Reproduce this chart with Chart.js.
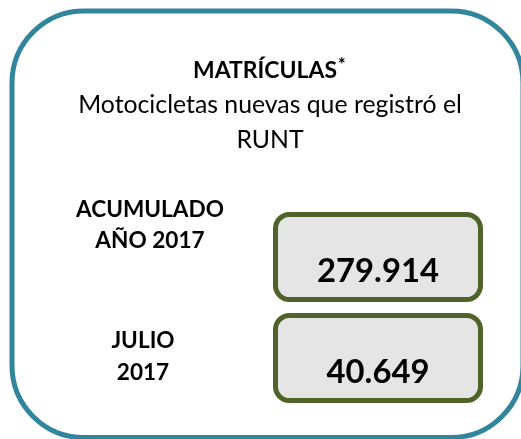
<!DOCTYPE html>
<html>
<head>
<meta charset="utf-8">
<script src="https://cdn.jsdelivr.net/npm/chart.js@4"></script>
<style>
html,body{margin:0;padding:0;background:#fff;overflow:hidden;}
canvas{display:block;}
</style>
</head>
<body>
<canvas id="c" width="521" height="439"></canvas>
<script>
// ---- data ----
const titleText = "MATRÍCULAS";
const subtitleLines = ["Motocicletas nuevas que registró el", "RUNT"];
const categories = ["ACUMULADO AÑO 2017", "JULIO 2017"];
const categoryLines = [["ACUMULADO", "AÑO 2017"], ["JULIO", "2017"]];
const values = [279914, 40649];

function fmt(v){ return String(v).replace(/\B(?=(\d{3})+(?!\d))/g, "."); }

const FONT = "Lato, 'Open Sans', sans-serif";

// font size that makes `text` as wide as `w`
function fitSize(ctx, text, weight, w){
  ctx.font = weight + " 20px " + FONT;
  return 20 * w / ctx.measureText(text).width;
}

const infoPlugin = {
  id: 'info',
  afterDraw(chart){
    const ctx = chart.ctx;
    const yScale = chart.scales.y;
    ctx.save();
    // outer frame
    ctx.beginPath();
    ctx.lineWidth = 5;
    ctx.strokeStyle = '#31859c';
    ctx.roundRect(12, 11, 511, 426.5, 72);
    ctx.stroke();

    ctx.fillStyle = '#000';
    ctx.textAlign = 'center';
    ctx.textBaseline = 'alphabetic';
    // title
    let s = fitSize(ctx, titleText, "bold", 144);
    ctx.font = "bold " + s + "px " + FONT;
    ctx.fillText(titleText, 265, 78);
    const tw = ctx.measureText(titleText).width;
    ctx.font = "bold 18px " + FONT;
    ctx.textAlign = 'left';
    ctx.fillText("*", 265 + tw/2 + 1, 71);
    ctx.textAlign = 'center';
    // subtitle
    s = fitSize(ctx, subtitleLines[0], "normal", 384);
    ctx.font = "normal " + s + "px " + FONT;
    ctx.fillText(subtitleLines[0], 270, 113);
    ctx.fillText(subtitleLines[1], 270, 148);

    const labelCx = [150, 143];
    const labelOff = [[-40, -9], [-10, 22]];
    const labelSize = fitSize(ctx, "ACUMULADO", "bold", 148);
    const valueSize = fitSize(ctx, "279.914", "bold", 122);
    categories.forEach((c, i) => {
      const cy = yScale.getPixelForValue(i);
      // value box
      ctx.beginPath();
      ctx.lineWidth = 5;
      ctx.strokeStyle = '#4f6228';
      ctx.fillStyle = '#e5e5e5';
      ctx.roundRect(275.5, cy - 42.5, 205, 85, 14);
      ctx.fill();
      ctx.stroke();
      // value text
      ctx.fillStyle = '#000';
      ctx.font = "bold " + valueSize + "px " + FONT;
      ctx.fillText(fmt(chart.data.datasets[0].data[i]), 378, cy + 24.5);
      // labels
      ctx.font = "bold " + labelSize + "px " + FONT;
      categoryLines[i].forEach((ln, k) => {
        ctx.fillText(ln, labelCx[i], cy + labelOff[i][k]);
      });
    });
    ctx.restore();
  }
};

new Chart(document.getElementById('c'), {
  type: 'bar',
  data: {
    labels: categories,
    datasets: [{ data: values, backgroundColor: 'rgba(0,0,0,0)', borderWidth: 0 }]
  },
  options: {
    indexAxis: 'y',
    responsive: false,
    animation: false,
    events: [],
    layout: { padding: { top: 206.5, bottom: 30.5, left: 0, right: 0 } },
    plugins: { legend: { display: false }, tooltip: { enabled: false }, title: { display: false } },
    scales: {
      x: { display: false, beginAtZero: true },
      y: { display: false, offset: true }
    }
  },
  plugins: [infoPlugin]
});
</script>
</body>
</html>
